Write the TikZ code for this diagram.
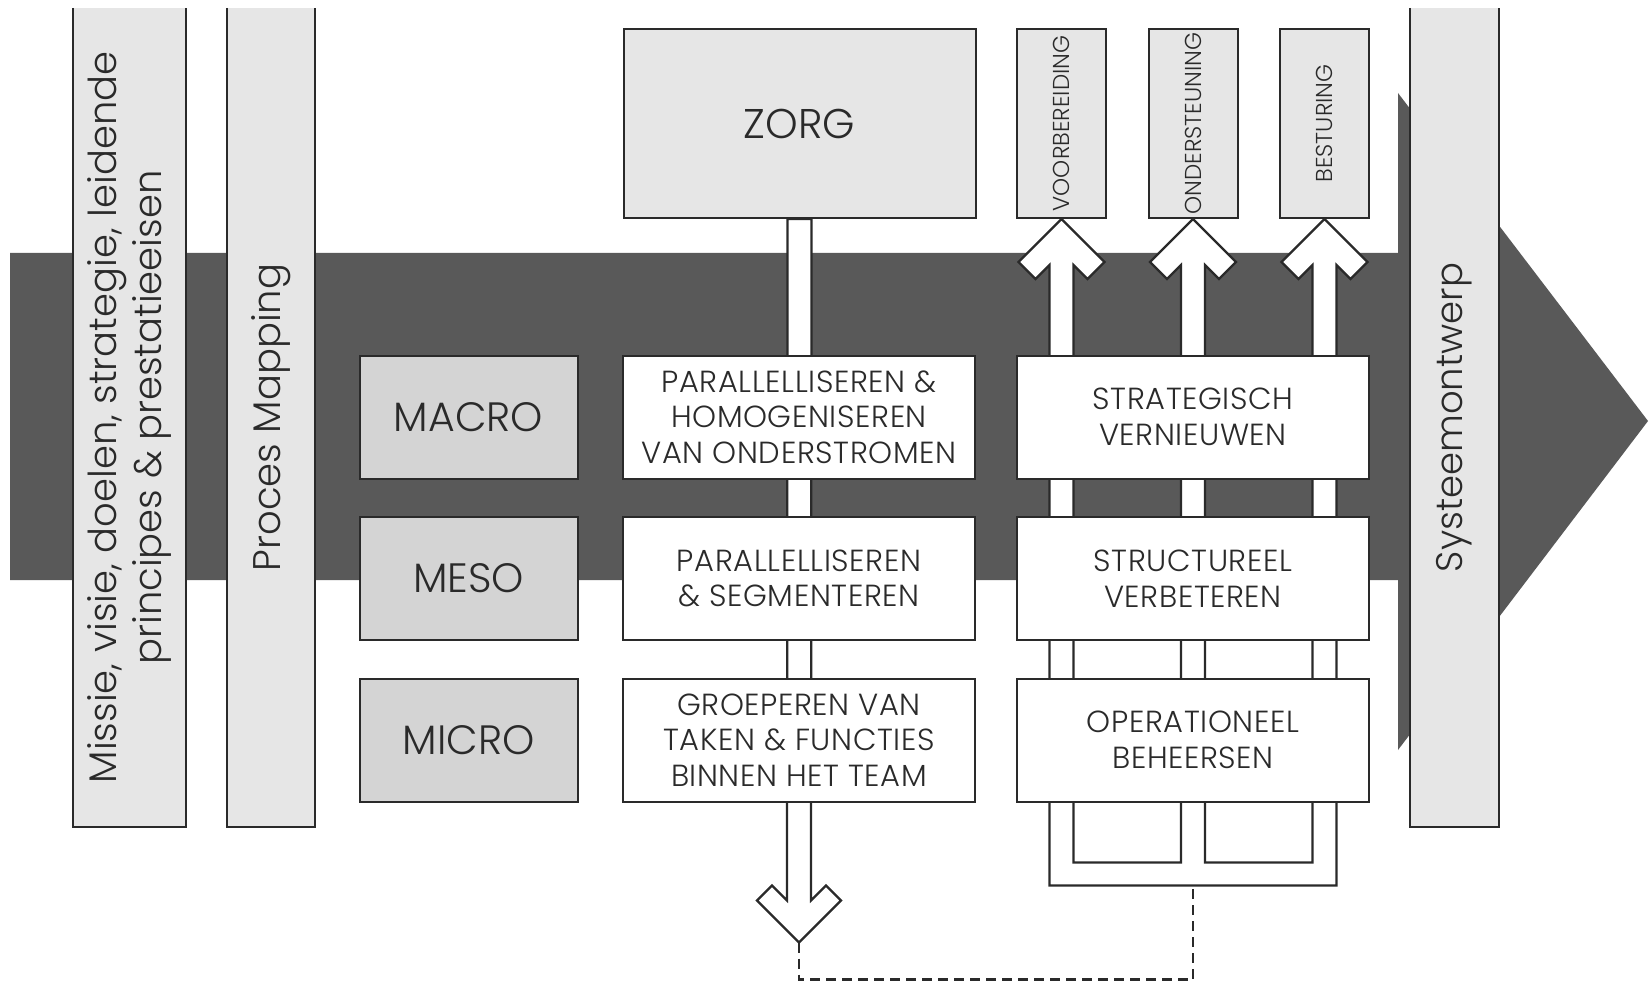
\documentclass[tikz,border=0pt]{standalone}
\usepackage{fontspec}
\setmainfont{Poppins Light}
\usetikzlibrary{calc}
\definecolor{dark}{HTML}{595959}
\definecolor{lgray}{HTML}{E6E6E6}
\definecolor{mgray}{HTML}{D4D4D4}
\definecolor{ink}{HTML}{2A2A2A}
\pgfdeclarelayer{back}
\pgfdeclarelayer{pipes}
\pgfsetlayers{back,pipes,main}
\begin{document}
\begin{tikzpicture}[x=1pt,y=-1pt,
  box/.style={draw=ink,line width=2pt,fill=white,minimum width=352pt,minimum height=123pt,
    inner sep=0pt,text=ink,align=center,font=\fontsize{30.5}{35.5}\selectfont\addfontfeature{LetterSpace=2}},
  lvl/.style={box,fill=mgray,minimum width=218pt,font=\fontsize{41}{48}\selectfont},
  tall/.style={draw=ink,line width=2pt,fill=lgray,minimum width=89pt,minimum height=189pt,inner sep=0pt},
  vlab/.style={rotate=90,text=ink,inner sep=0pt,font=\fontsize{23}{26}\selectfont},
  bar/.style={fill=lgray,inner sep=0pt,minimum height=819pt},
  barside/.style={draw=ink,line width=2pt},
  bartext/.style={rotate=90,align=center,text=ink,inner sep=0pt,font=\fontsize{38.5}{45}\selectfont},
  pipe/.style={fill=white,draw=ink,line width=2.2pt,line join=miter},
  dashline/.style={draw=ink,line width=2.4pt,dash pattern=on 10pt off 6pt}]
\useasboundingbox (0,0) rectangle (1651,984);

% main dark arrow
\begin{pgfonlayer}{back}
  \fill[dark] (10,253) -- (1398,253) -- (1398,93) -- (1648,421) -- (1398,750) -- (1398,580) -- (10,580) -- cycle;
\end{pgfonlayer}

% vertical bars
\node[bar,minimum width=113pt] (b1) at (129.5,417.5) {};
\draw[barside] (b1.north west) |- (b1.south east) -- (b1.north east);
\node[bartext] (t1) at (b1.center) {Missie, visie, doelen, strategie, leidende\\principes \& prestatieeisen};
\node[bar,minimum width=88pt] (b2) at (271,417.5) {};
\draw[barside] (b2.north west) |- (b2.south east) -- (b2.north east);
\node[bartext] (t2) at (b2.center) {Proces Mapping};
\node[bar,minimum width=89pt] (b3) at (1454.5,417.5) {};
\draw[barside] (b3.north west) |- (b3.south east) -- (b3.north east);
\node[bartext,font=\fontsize{37}{45}\selectfont] (t3) at (b3.center) {Systeemontwerp};

% top boxes
\node[box,fill=lgray,minimum height=189pt,font=\fontsize{41.5}{48}\selectfont] (zorg) at (799.5,123.5) {ZORG};
\node[tall] (voor) at (1061.5,123.5) {};
\node[vlab] (voort) at (voor.center) {VOORBEREIDING};
\node[tall] (onder) at (1193,123.5) {};
\node[vlab] (ondert) at (onder.center) {ONDERSTEUNING};
\node[tall] (best) at (1324.5,123.5) {};
\node[vlab] (bestt) at (best.center) {BESTURING};

% level boxes
\node[lvl] (macro) at (468.5,417) {MACRO};
\node[lvl] (meso) at (468.5,578.5) {MESO};
\node[lvl] (micro) at (468.5,740) {MICRO};

\node[box] (p1) at (799,417) {PARALLELLISEREN \&\\HOMOGENISEREN\\VAN ONDERSTROMEN};
\node[box] (p2) at (799,578.5) {PARALLELLISEREN\\\& SEGMENTEREN};
\node[box] (p3) at (799,740) {GROEPEREN VAN\\TAKEN \& FUNCTIES\\BINNEN HET TEAM};

\node[box] (s1) at (1193,417) {STRATEGISCH\\VERNIEUWEN};
\node[box] (s2) at (1193,578.5) {STRUCTUREEL\\VERBETEREN};
\node[box] (s3) at (1193,740) {OPERATIONEEL\\BEHEERSEN};

% pipes
\coordinate (dtip) at ($(p3.south)+(0,140)$);
\coordinate (dl) at ($(dtip)+(0,37)$);
\coordinate (ta) at (voor.south);
\coordinate (tb) at (onder.south);
\coordinate (tc) at (best.south);
\coordinate (yin) at ($(s3.south)+(0,60)$);
\coordinate (yout) at ($(s3.south)+(0,83)$);
\coordinate (lc) at (tb |- yout);

\begin{pgfonlayer}{pipes}
  \path[pipe] ($(zorg.south)+(-12,0)$) -- ($(dtip)+(-12,-42)$) -- ++(-15,-15) -- ++(-15,15)
    -- (dtip) -- ++(42,-42) -- ++(-15,-15) -- ++(-15,15) -- ($(zorg.south)+(12,0)$) -- cycle;
  \path[pipe] (ta) -- ++(43,43) -- ++(-17,17) -- ++(-14,-14) -- ($(ta|-yin)+(12,0)$)
    -- ($(tb|-yin)+(-12,0)$) -- ($(tb)+(-12,46)$) -- ++(-14,14) -- ++(-17,-17)
    -- (tb) -- ++(43,43) -- ++(-17,17) -- ++(-14,-14) -- ($(tb|-yin)+(12,0)$)
    -- ($(tc|-yin)+(-12,0)$) -- ($(tc)+(-12,46)$) -- ++(-14,14) -- ++(-17,-17)
    -- (tc) -- ++(43,43) -- ++(-17,17) -- ++(-14,-14) -- ($(tc|-yout)+(12,0)$)
    -- ($(ta|-yout)+(-12,0)$) -- ($(ta)+(-12,46)$) -- ++(-14,14) -- ++(-17,-17) -- cycle;
\end{pgfonlayer}

\draw[dashline] (dtip) -- (dl) -| (lc);
\end{tikzpicture}
\end{document}
